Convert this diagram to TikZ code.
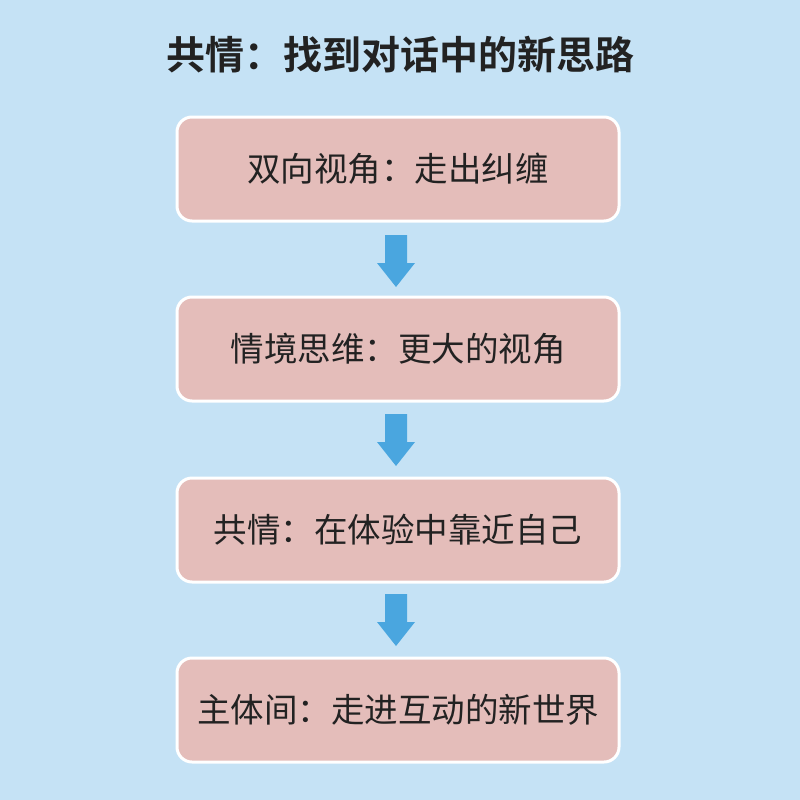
\documentclass[tikz,border=0pt]{standalone}
\usepackage{fontspec}
\newfontfamily\cjk{Noto Sans CJK SC}
\newfontfamily\cjkbold{Noto Sans CJK SC Bold}
\definecolor{bg}{HTML}{C5E2F5}
\definecolor{boxfill}{HTML}{E4BDBA}
\definecolor{arrowc}{HTML}{4AA6DF}
\definecolor{txt}{HTML}{222222}
\begin{document}
\begin{tikzpicture}[x=1pt,y=-1pt,
  stagebox/.style={draw=white, line width=3pt, fill=boxfill, rounded corners=15pt,
    minimum width=442pt, minimum height=104pt, inner sep=0pt, text=txt,
    font=\cjk\fontsize{33.5}{40}\selectfont},
  flowarrow/.style={fill=arrowc, draw=none}]
\fill[bg] (0,0) rectangle (800,800);
\useasboundingbox (0,0) rectangle (800,800);
\node[text=txt, font=\cjkbold\fontsize{39}{45}\selectfont] (title) at (400,55) {共情：找到对话中的新思路};
\node[stagebox] (b1) at (398,169) {双向视角：走出纠缠};
\node[stagebox] (b2) at (398,349) {情境思维：更大的视角};
\node[stagebox] (b3) at (398,530) {共情：在体验中靠近自己};
\node[stagebox] (b4) at (398,710) {主体间：走进互动的新世界};
\foreach \y in {235, 414, 594} {
  \fill[flowarrow] (385,\y) -- (407,\y) -- (407,\y+28) -- (415,\y+28) -- (396,\y+52) -- (377,\y+28) -- (385,\y+28) -- cycle;
}
\end{tikzpicture}
\end{document}
